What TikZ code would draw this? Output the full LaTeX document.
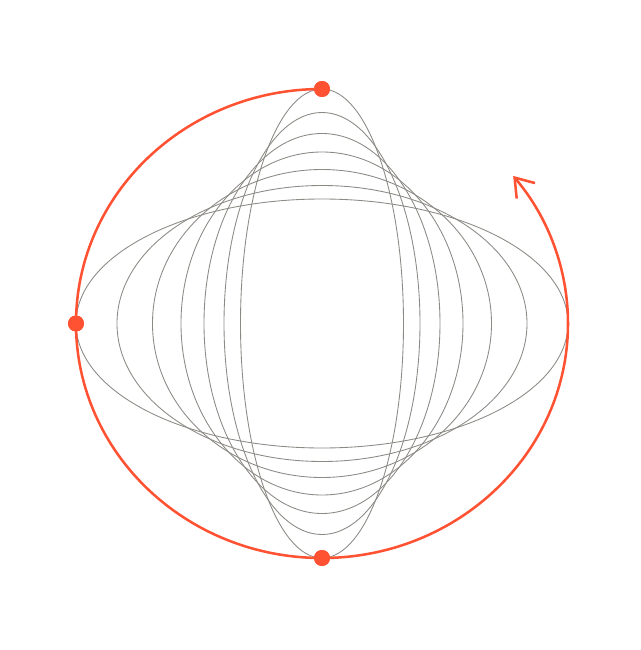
\documentclass[tikz,border=0pt]{standalone}
\usetikzlibrary{arrows.meta}
\definecolor{vermil}{HTML}{FF5232}
\definecolor{shell}{HTML}{8C8A85}
\begin{document}
\begin{tikzpicture}[x=0.75pt, y=0.75pt,
		orbit/.style={draw=shell, line width=0.65pt},
		path/.style={draw=vermil, line width=1.9pt, -{Straight Barb[length=13pt, width=18pt]}},
		pin/.style={circle, fill=vermil, inner sep=0, minimum size=12pt}]
		\useasboundingbox (-322,-326.5) rectangle (318,323.5);
		\foreach \rx/\ry in {246/124.5, 205/138, 169.5/154, 141/171.5, 118/190, 98/211, 81.5/234.5}
			\draw[orbit] (0,0) ellipse [x radius=\rx, y radius=\ry];
		\node [pin] (top) at (0,234.5) {};
		\node [pin] (left) at (-246,0) {};
		\node [pin] (bottom) at (0,-234.5) {};
		\draw[path] (top.center) arc [start angle=90, end angle=399, x radius=246, y radius=234.5];
		\node [pin] at (top) {};
		\node [pin] at (left) {};
		\node [pin] at (bottom) {};
\end{tikzpicture}
\end{document}
